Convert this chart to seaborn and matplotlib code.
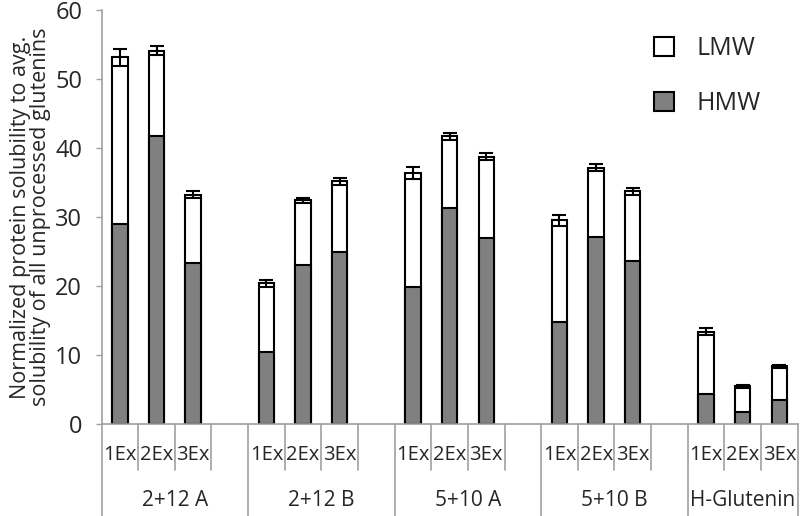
import matplotlib
matplotlib.use('Agg')
import matplotlib.pyplot as plt
from matplotlib.patches import Patch
import pandas as pd
import seaborn as sns

groups = ['2+12 A', '2+12 B', '5+10 A', '5+10 B', 'H-Glutenin']
extractions = ['1Ex', '2Ex', '3Ex']
hmw = [29.0, 41.7, 23.4, 10.5, 23.1, 24.9, 19.8, 31.3, 26.9, 14.8, 27.1, 23.6, 4.4, 1.7, 3.5]
total = [53.1, 54.1, 33.2, 20.4, 32.4, 35.2, 36.4, 41.7, 38.7, 29.5, 37.1, 33.7, 13.4, 5.5, 8.4]
err = [1.2, 0.6, 0.5, 0.5, 0.4, 0.5, 0.9, 0.5, 0.5, 0.8, 0.5, 0.5, 0.5, 0.2, 0.2]

sns.set_style('white')
plt.rcParams['font.family'] = ['Open Sans', 'DejaVu Sans']

# slot order: 3 extractions per group + an empty slot between groups
order = []
slots = []
for gi, g in enumerate(groups):
    for e in extractions:
        order.append(g + ' ' + e)
        slots.append(g + ' ' + e)
    if gi < len(groups) - 1:
        order.append('gap%d' % gi)

df = pd.DataFrame({'slot': slots, 'hmw': hmw, 'total': total, 'err': err})

fig = plt.figure(figsize=(8, 5.16), dpi=100)
ax = fig.add_axes([0.127, 0.178, 0.87, 0.803])

sns.barplot(data=df, x='slot', y='total', order=order, color='white', saturation=1,
            edgecolor='black', linewidth=1.5, width=0.42, errorbar=None, ax=ax)
sns.barplot(data=df, x='slot', y='hmw', order=order, color='#808080', saturation=1,
            edgecolor='black', linewidth=1.5, width=0.42, errorbar=None, ax=ax)
xpos = [order.index(s) for s in df['slot']]
ax.errorbar(xpos, df['total'], yerr=df['err'], fmt='none', ecolor='black',
            elinewidth=1.5, capsize=5, capthick=1.5)

ax.set_xlim(-0.5, len(order) - 0.5)
ax.set_ylim(0, 60)
ax.set_yticks(range(0, 61, 10))
ax.tick_params(axis='y', labelsize=17, length=4, width=1, color='#a0a0a0', pad=10, left=True)
ax.set_xticks([])
ax.set_xlabel('')
ax.set_ylabel('Normalized protein solubility to avg.\nsolubility of all unprocessed glutenins',
              fontsize=15.5, labelpad=3, linespacing=0.92)
for s in ['top', 'right']:
    ax.spines[s].set_visible(False)
for s in ['left', 'bottom']:
    ax.spines[s].set_color('#a0a0a0')
    ax.spines[s].set_linewidth(1.2)

# hierarchical category axis
trans = ax.get_xaxis_transform()
short_y = -0.111
long_y = -0.23
for i in range(len(order) + 1):
    x = i - 0.5
    is_group_edge = (i % 4 == 0) or i == len(order)
    ax.plot([x, x], [0, long_y if is_group_edge else short_y], transform=trans,
            color='#a0a0a0', lw=1.2, clip_on=False)
for s in slots:
    i = order.index(s)
    ax.text(i, -0.075, s.split(' ')[-1], transform=trans, ha='center', va='center', fontsize=14.5)
for gi, g in enumerate(groups):
    start = gi * 4
    end = start + (3 if gi == len(groups) - 1 else 4)
    ax.text((start + end - 1) / 2, -0.184, g, transform=trans, ha='center', va='center', fontsize=15)

handles = [Patch(facecolor='white', edgecolor='black', linewidth=1.5),
           Patch(facecolor='#808080', edgecolor='black', linewidth=1.5)]
ax.legend(handles, ['LMW', 'HMW'], loc='upper right', bbox_to_anchor=(0.98, 0.99),
          frameon=False, fontsize=18, handlelength=0.8, handleheight=0.8,
          labelspacing=1.2, handletextpad=0.9)

fig.savefig('out.png', dpi=100)
